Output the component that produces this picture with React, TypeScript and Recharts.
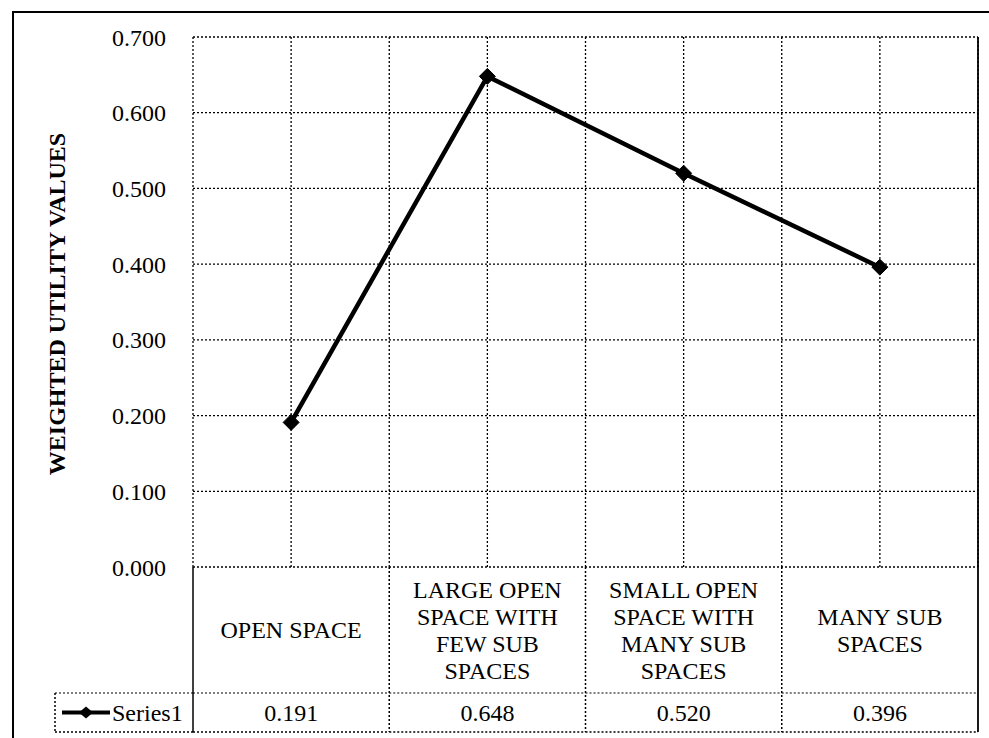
import React from 'react';
import { LineChart, Line, XAxis, YAxis, CartesianGrid } from 'recharts';

const categories = [
  'OPEN SPACE',
  'LARGE OPEN SPACE WITH FEW SUB SPACES',
  'SMALL OPEN SPACE WITH MANY SUB SPACES',
  'MANY SUB SPACES',
];
const categoryLines = [
  ['OPEN SPACE'],
  ['LARGE OPEN', 'SPACE WITH', 'FEW SUB', 'SPACES'],
  ['SMALL OPEN', 'SPACE WITH', 'MANY SUB', 'SPACES'],
  ['MANY SUB', 'SPACES'],
];
const series1 = [0.191, 0.648, 0.52, 0.396];
const yTicks = [0, 0.1, 0.2, 0.3, 0.4, 0.5, 0.6, 0.7];
const seriesName = 'Series1';
const yTitle = 'WEIGHTED UTILITY VALUES';

const data = categories.map((c, i) => ({ name: c, value: series1[i] }));

const W = 989;
const H = 738;
const PLOT_LEFT = 193;
const PLOT_RIGHT = 978;
const PLOT_TOP = 37;
const PLOT_BOTTOM = 567;
const ROW_Y = 693;
const TABLE_BOTTOM = 732;
const LEGEND_LEFT = 55;
const BW = (PLOT_RIGHT - PLOT_LEFT) / categories.length;
const FONT = 'Liberation Serif, Times New Roman, DejaVu Serif, serif';
const DOT = '2 2';

const txtStyle = { fontFamily: FONT };

const XTick = (props: any) => {
  const { x, payload } = props;
  const idx = payload.index;
  const lines = categoryLines[idx] || [String(payload.value)];
  const left = x - BW / 2;
  const right = x + BW / 2;
  const midY = (PLOT_BOTTOM + ROW_Y) / 2;
  const lh = 27;
  const startY = midY - ((lines.length - 1) * lh) / 2;
  const vy = (ROW_Y + TABLE_BOTTOM) / 2;
  const last = idx === categories.length - 1;
  return (
    <g>
      {idx === 0 && (
        <g>
          <line x1={left} y1={PLOT_BOTTOM} x2={left} y2={TABLE_BOTTOM} stroke="#000" strokeWidth={1.5} />
          <line x1={LEGEND_LEFT} y1={ROW_Y} x2={left} y2={ROW_Y} stroke="#000" strokeWidth={1.2} strokeDasharray={DOT} />
          <line x1={LEGEND_LEFT} y1={TABLE_BOTTOM} x2={left} y2={TABLE_BOTTOM} stroke="#000" strokeWidth={1.5} strokeDasharray={DOT} />
          <line x1={LEGEND_LEFT} y1={ROW_Y} x2={LEGEND_LEFT} y2={TABLE_BOTTOM} stroke="#000" strokeWidth={1.5} strokeDasharray={DOT} />
          <line x1={LEGEND_LEFT + 7} y1={vy} x2={LEGEND_LEFT + 55} y2={vy} stroke="#000" strokeWidth={4} />
          <polygon
            points={`${LEGEND_LEFT + 31},${vy - 6} ${LEGEND_LEFT + 38},${vy} ${LEGEND_LEFT + 31},${vy + 6} ${LEGEND_LEFT + 24},${vy}`}
            fill="#000"
          />
          <text x={LEGEND_LEFT + 57} y={vy} dominantBaseline="central" style={txtStyle} fontSize={24} fill="#000">
            {seriesName}
          </text>
        </g>
      )}
      {last ? (
        <line x1={right} y1={PLOT_TOP} x2={right} y2={TABLE_BOTTOM} stroke="#000" strokeWidth={1.8} />
      ) : (
        <line x1={right} y1={PLOT_BOTTOM} x2={right} y2={TABLE_BOTTOM} stroke="#000" strokeWidth={1.5} strokeDasharray={DOT} />
      )}
      <line x1={left} y1={ROW_Y} x2={right} y2={ROW_Y} stroke="#000" strokeWidth={1.2} strokeDasharray={DOT} />
      <line x1={left} y1={TABLE_BOTTOM} x2={right} y2={TABLE_BOTTOM} stroke="#000" strokeWidth={1.5} strokeDasharray={DOT} />
      {lines.map((ln, i) => (
        <text key={i} x={x} y={startY + i * lh} textAnchor="middle" dominantBaseline="central" style={txtStyle} fontSize={24} fill="#000">
          {ln}
        </text>
      ))}
      <text x={x} y={vy} textAnchor="middle" dominantBaseline="central" style={txtStyle} fontSize={24} fill="#000">
        {series1[idx].toFixed(3)}
      </text>
    </g>
  );
};

const Diamond = (props: any) => {
  const { cx, cy } = props;
  if (cx == null || cy == null) return null;
  const r = 8;
  return <polygon points={`${cx},${cy - r} ${cx + r},${cy} ${cx},${cy + r} ${cx - r},${cy}`} fill="#000" stroke="#000" />;
};

const YTitle = () => (
  <text
    transform="translate(57,304) rotate(-90)"
    textAnchor="middle"
    dominantBaseline="central"
    style={txtStyle}
    fontWeight="bold"
    fontSize={24}
    fill="#000"
  >
    {yTitle}
  </text>
);

export default function App() {
  return (
    <div style={{ position: 'absolute', left: 0, top: 0, width: W, height: H, background: '#fff', overflow: 'hidden', fontFamily: FONT }}>
      <div
        style={{
          position: 'absolute',
          left: 12,
          top: 11,
          width: 1000,
          height: 800,
          borderLeft: '2px solid #000',
          borderTop: '2px solid #000',
        }}
      />
      <div style={{ position: 'absolute', left: 0, top: 0 }}>
        <LineChart
          width={W}
          height={H}
          data={data}
          margin={{ top: PLOT_TOP, right: W - PLOT_RIGHT, left: 0, bottom: 0 }}
          style={{ fontFamily: FONT }}
        >
          <CartesianGrid
            stroke="#000"
            strokeWidth={1.3}
            strokeDasharray={DOT}
            verticalCoordinatesGenerator={({ offset }: any) =>
              Array.from({ length: categories.length * 2 + 1 }, (_, i) => offset.left + (i * offset.width) / (categories.length * 2))
            }
          />
          <XAxis
            dataKey="name"
            scale="band"
            height={H - PLOT_BOTTOM}
            axisLine={false}
            tickLine={false}
            interval={0}
            tick={<XTick />}
          />
          <YAxis
            width={PLOT_LEFT}
            domain={[0, 0.7]}
            ticks={yTicks}
            tickFormatter={(v: number) => v.toFixed(3)}
            axisLine={false}
            tickLine={false}
            tickSize={0}
            tickMargin={27}
            tick={{ fill: '#000', fontSize: 24, style: txtStyle }}
            label={{ content: () => <YTitle /> }}
          />
          <Line
            type="linear"
            dataKey="value"
            stroke="#000"
            strokeWidth={4.5}
            dot={<Diamond />}
            activeDot={false}
            isAnimationActive={false}
          />
        </LineChart>
      </div>
    </div>
  );
}
